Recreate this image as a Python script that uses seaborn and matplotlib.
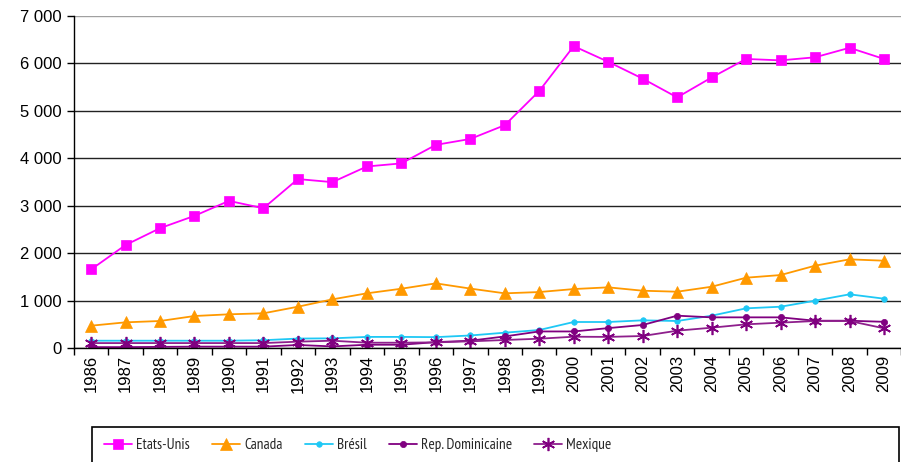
import numpy as np
import pandas as pd
import matplotlib
matplotlib.use("Agg")
import matplotlib.pyplot as plt
import seaborn as sns
from matplotlib.ticker import FuncFormatter, FixedLocator
from matplotlib.patches import Rectangle

years = list(range(1986, 2010))
etats_unis = [1660, 2175, 2530, 2790, 3105, 2950, 3565, 3500, 3830, 3895, 4285, 4410, 4700,
              5420, 6365, 6035, 5680, 5285, 5705, 6095, 6065, 6130, 6330, 6095]
canada = [476, 547, 575, 680, 716, 737, 876, 1031, 1158, 1255, 1368, 1258, 1158,
          1185, 1248, 1284, 1213, 1192, 1297, 1487, 1543, 1740, 1874, 1845]
bresil = [160, 160, 160, 160, 160, 170, 205, 210, 240, 240, 235, 270, 329,
          385, 554, 554, 589, 575, 687, 842, 876, 1003, 1137, 1045]
rep_dom = [25, 25, 30, 35, 35, 35, 70, 40, 75, 75, 130, 160, 250,
           355, 355, 425, 491, 687, 652, 652, 652, 581, 581, 558]
mexique = [110, 110, 110, 110, 110, 110, 140, 160, 118, 118, 125, 147, 175,
           202, 244, 240, 259, 371, 434, 505, 540, 575, 575, 421]

series_names = ["Etats-Unis", "Canada", "Brésil", "Rep. Dominicaine", "Mexique"]
series_vals = [etats_unis, canada, bresil, rep_dom, mexique]
colors = {"Etats-Unis": "#FF00FF", "Canada": "#FF9900", "Brésil": "#1FC8F5",
          "Rep. Dominicaine": "#800080", "Mexique": "#8E1F8C"}
markers = {"Etats-Unis": "s", "Canada": "^", "Brésil": "o",
           "Rep. Dominicaine": "o", "Mexique": (6, 2, 0)}
msizes = {"Etats-Unis": 7, "Canada": 8, "Brésil": 4, "Rep. Dominicaine": 4.5, "Mexique": 9.5}
mfc = {"Etats-Unis": "#FF00FF", "Canada": "#FF9900", "Brésil": "#1FC8F5",
       "Rep. Dominicaine": "#800080", "Mexique": "#800080"}

rows = []
for name, vals in zip(series_names, series_vals):
    for i, (y, v) in enumerate(zip(years, vals)):
        rows.append({"idx": i, "year": str(y), "serie": name, "value": v})
df = pd.DataFrame(rows)

sns.set_theme(style="white")
plt.rcParams['font.family'] = ['Liberation Sans', 'DejaVu Sans']

fig = plt.figure(figsize=(9.01, 4.62), dpi=100)
ax = fig.add_axes([0.0819, 0.2461, 0.9184, 0.7193])

for name in series_names:
    sub = df[df["serie"] == name]
    sns.lineplot(data=sub, x="idx", y="value", ax=ax, color=colors[name],
                 marker=markers[name], markersize=msizes[name],
                 markerfacecolor=mfc[name], markeredgecolor=mfc[name],
                 markeredgewidth=1.2 if name == "Mexique" else 0.5,
                 linewidth=1.3, label=name, legend=False)

ax.set_xlim(-0.5, len(years) - 0.5)
ax.set_ylim(0, 7000)
ax.set_xlabel("")
ax.set_ylabel("")

ax.set_yticks(np.arange(0, 7001, 1000))
ax.yaxis.set_major_formatter(FuncFormatter(lambda v, p: f"{int(v):,}".replace(",", " ")))
ax.set_xticks(range(len(years)))
ax.set_xticklabels([str(y) for y in years], rotation=90)
ax.xaxis.set_minor_locator(FixedLocator(np.arange(-0.5, len(years), 1.0)))

ax.tick_params(axis="y", which="major", left=True, length=5, width=1, color="black",
               labelsize=12, pad=4, labelcolor="black")
ax.tick_params(axis="x", which="major", bottom=False, length=0, labelsize=12, pad=5,
               labelcolor="black")
ax.tick_params(axis="x", which="minor", bottom=True, length=5, width=1, color="black")

ax.yaxis.grid(True, color="#222222", linewidth=1.0)
ax.xaxis.grid(False)
ax.set_axisbelow(True)
ax.get_ygridlines()[-1].set_color("#a0a0a0")

for s in ["top", "right"]:
    ax.spines[s].set_visible(False)
ax.spines["left"].set_color("black")
ax.spines["left"].set_linewidth(1.0)
ax.spines["bottom"].set_color("black")
ax.spines["bottom"].set_linewidth(1.0)

# legend frame
frame = Rectangle((92 / 901, -0.01), 807 / 901, 1 - 427 / 462 + 0.01,
                  transform=fig.transFigure, fill=False, edgecolor="black",
                  linewidth=1.2, clip_on=False)
fig.patches.append(frame)

handles, labels = ax.get_legend_handles_labels()
leg = fig.legend(handles, labels, loc="center left",
                 bbox_to_anchor=(104 / 901, 1 - 445 / 462),
                 bbox_transform=fig.transFigure, ncol=5,
                 frameon=False, borderaxespad=0, borderpad=0,
                 prop={"family": ["Liberation Sans Narrow", "PT Sans Narrow", "Liberation Sans"],
                       "size": 11},
                 handlelength=1.85, handletextpad=0.25, columnspacing=1.45)

fig.savefig("out.png", dpi=100)
